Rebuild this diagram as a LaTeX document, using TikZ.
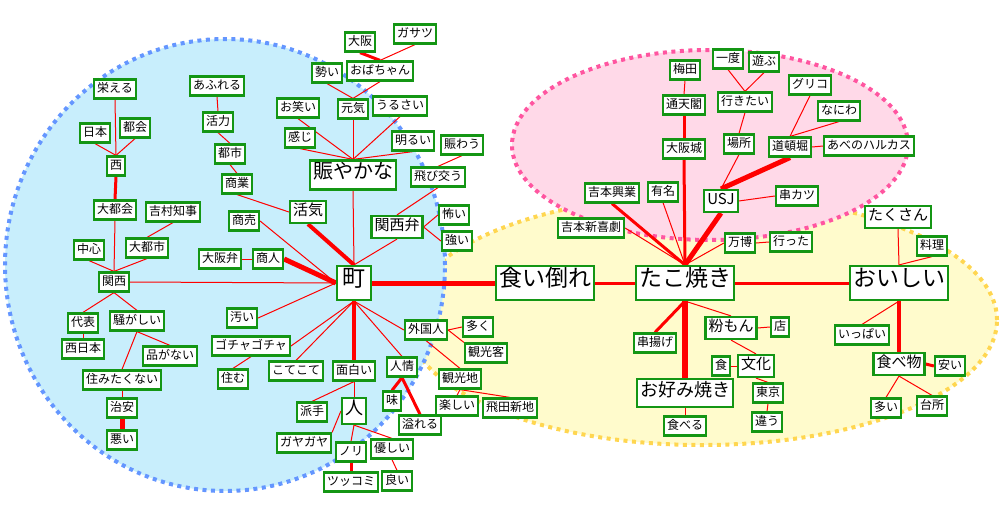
\documentclass[tikz,border=0pt]{standalone}
\usepackage{fontspec}
\setmainfont{Noto Sans CJK JP}
\definecolor{kwgreen}{RGB}{20,150,20}
\definecolor{linkred}{RGB}{255,0,0}
\definecolor{bluefill}{RGB}{200,238,252}
\definecolor{blueedge}{RGB}{100,150,255}
\definecolor{pinkfill}{RGB}{255,217,232}
\definecolor{pinkedge}{RGB}{255,85,160}
\definecolor{yellowfill}{RGB}{255,251,204}
\definecolor{yellowedge}{RGB}{255,214,80}
\pgfdeclarelayer{bg}
\pgfdeclarelayer{links}
\pgfsetlayers{bg,links,main}
\tikzset{
  word/.style={draw=kwgreen, line width=2.2pt, fill=white, inner xsep=3pt, inner ysep=2pt,
    text height=0.84em, text depth=0.16em, font=\fontsize{12}{14}\selectfont, minimum height=19pt},
  midword/.style={word, font=\fontsize{15}{17}\selectfont, minimum height=22pt},
  bigword/.style={word, font=\fontsize{20}{22}\selectfont, minimum height=29pt},
  hubword/.style={word, font=\fontsize{23}{25}\selectfont, minimum height=34pt, minimum width=34pt},
  link/.style={draw=linkred, line width=1pt},
  area/.style={line width=4pt, dash pattern=on 4pt off 4.5pt},
}
\begin{document}
\begin{tikzpicture}[x=1pt, y=-1pt]
    \useasboundingbox (0,0) rectangle (1000,519);
    % areas
    \begin{pgfonlayer}{bg}
        \filldraw[area, fill=yellowfill, draw=yellowedge] (702,320) ellipse [x radius=295pt, y radius=125pt];
        \filldraw[area, fill=pinkfill, draw=pinkedge] (710,145) ellipse [x radius=198pt, y radius=95pt];
        \filldraw[area, fill=bluefill, draw=blueedge] (225,265) ellipse [x radius=220pt, y radius=226pt];
    \end{pgfonlayer}
    % 関西 side
    \node[word] (sakaeru) at (115,89) {栄える};
    \node[word] (nihon) at (95,133) {日本};
    \node[word] (tokai) at (135,128) {都会};
    \node[word] (nishi) at (116,166) {西};
    \node[word] (daitokai) at (115,210) {大都会};
    \node[word] (yoshimura) at (173,212) {吉村知事};
    \node[word] (chushin) at (89,250) {中心};
    \node[word] (daitoshi) at (147,248) {大都市};
    \node[word] (kansai) at (114,282) {関西};
    \node[word] (daihyo) at (83,323) {代表};
    \node[word] (sawagashii) at (137,321) {騒がしい};
    \node[word] (nishinihon) at (83,349) {西日本};
    \node[word] (hinaganai) at (170,356) {品がない};
    \node[word] (sumitakunai) at (122,380) {住みたくない};
    \node[word] (chian) at (122,408) {治安};
    \node[word] (warui) at (122,440) {悪い};
    \node[word] (afureru) at (217,86) {あふれる};
    \node[word] (katsuryoku) at (218,122) {活力};
    \node[word] (toshi) at (230,154) {都市};
    \node[word] (shogyo) at (237,184) {商業};
    \node[midword] (kakki) at (308,212) {活気};
    \node[word] (shobai) at (244,221) {商売};
    \node[word] (osakaben) at (220,259) {大阪弁};
    \node[word] (shonin) at (268,259) {商人};
    \node[hubword] (machi) at (354,283) {町};
    \node[word] (kitanai) at (242,318) {汚い};
    \node[word] (gocha) at (251,346) {ゴチャゴチャ};
    \node[word] (sumu) at (233,379) {住む};
    \node[word] (kotekote) at (296,371) {こてこて};
    \node[word] (omoshiroi) at (354,371) {面白い};
    \node[word] (ninjo) at (402,367) {人情};
    \node[word] (hade) at (312,412) {派手};
    \node[midword, font=\fontsize{18}{20}\selectfont, minimum height=26pt] (hito) at (354,411) {人};
    \node[word] (aji) at (392,401) {味};
    \node[word] (michiru) at (420,425) {溢れる};
    \node[word] (gayagaya) at (304,443) {ガヤガヤ};
    \node[word] (nori) at (351,452) {ノリ};
    \node[word] (yasashii) at (392,449) {優しい};
    \node[word] (tsukkomi) at (351,482) {ツッコミ};
    \node[word] (yoi) at (397,481) {良い};
    \node[word] (osaka) at (360,42) {大阪};
    \node[word] (gasatsu) at (415,34) {ガサツ};
    \node[word] (ikioi) at (327,73) {勢い};
    \node[word] (obachan) at (380,71) {おばちゃん};
    \node[word] (owarai) at (298,108) {お笑い};
    \node[word] (genki) at (353,109) {元気};
    \node[word] (urusai) at (400,106) {うるさい};
    \node[word] (kanji) at (300,138) {感じ};
    \node[word] (akarui) at (413,141) {明るい};
    \node[word] (nigiwau) at (462,145) {賑わう};
    \node[bigword] (nigiyaka) at (353,175) {賑やかな};
    \node[word] (tobikau) at (438,177) {飛び交う};
    \node[midword] (kansaiben) at (397,227) {関西弁};
    \node[word] (kowai) at (454,215) {怖い};
    \node[word] (tsuyoi) at (457,241) {強い};
    \node[word] (gaikokujin) at (426,330) {外国人};
    \node[word] (ooku) at (478,327) {多く};
    \node[word] (kankokyaku) at (486,353) {観光客};
    \node[word] (kankochi) at (460,379) {観光地};
    \node[word] (tanoshii) at (457,406) {楽しい};
    \node[word] (tobita) at (510,408) {飛田新地};
    % middle
    \node[hubword] (kuidaore) at (545,283) {食い倒れ};
    \node[hubword] (takoyaki) at (685,283) {たこ焼き};
    \node[hubword] (oishii) at (899,283) {おいしい};
    % 大阪 spots
    \node[word] (umeda) at (685,70) {梅田};
    \node[word] (ichido) at (728,59) {一度};
    \node[word] (asobu) at (764,62) {遊ぶ};
    \node[word] (glico) at (810,85) {グリコ};
    \node[word] (tsutenkaku) at (684,105) {通天閣};
    \node[word] (ikitai) at (745,102) {行きたい};
    \node[word] (naniwa) at (839,111) {なにわ};
    \node[word] (osakajo) at (684,149) {大阪城};
    \node[word] (basho) at (739,144) {場所};
    \node[word] (dotonbori) at (790,147) {道頓堀};
    \node[word] (harukas) at (869,146) {あべのハルカス};
    \node[midword] (usj) at (721,201) {USJ};
    \node[word] (kushikatsu) at (797,196) {串カツ};
    \node[word] (kogyo) at (612,193) {吉本興業};
    \node[word] (yumei) at (663,192) {有名};
    \node[word] (shinkigeki) at (591,228) {吉本新喜劇};
    \node[word] (banpaku) at (740,243) {万博};
    \node[word] (itta) at (791,242) {行った};
    % food
    \node[midword] (konamon) at (731,328) {粉もん};
    \node[word] (kushiage) at (655,343) {串揚げ};
    \node[word] (mise) at (780,327) {店};
    \node[word] (shoku) at (721,366) {食};
    \node[midword] (bunka) at (756,366) {文化};
    \node[midword, font=\fontsize{18}{20}\selectfont, minimum height=28pt] (okonomi) at (685,393) {お好み焼き};
    \node[word] (tokyo) at (768,393) {東京};
    \node[word] (taberu) at (685,426) {食べる};
    \node[word] (chigau) at (767,422) {違う};
    \node[midword] (takusan) at (898,217) {たくさん};
    \node[word] (ryori) at (932,246) {料理};
    \node[word] (ippai) at (862,335) {いっぱい};
    \node[midword] (tabemono) at (899,364) {食べ物};
    \node[word] (yasui) at (950,366) {安い};
    \node[word] (ooi) at (886,408) {多い};
    \node[word] (daidokoro) at (932,406) {台所};
    % links
    \begin{pgfonlayer}{links}
        \foreach \a/\b in {sakaeru.south/nishi.north, nihon.south/nishi.north, tokai.south/nishi.north,
            daitokai.south/kansai.north, chushin.south/kansai.north, daitoshi.south/kansai.north,
            yoshimura.south/daitoshi.north, kansai.south/daihyo.north, kansai.south/sawagashii.north,
            daihyo.south/nishinihon.north, sawagashii.south/hinaganai.north, sawagashii.south/sumitakunai.north,
            sumitakunai.south/chian.north, kansai.east/machi.west, afureru.south/katsuryoku.north,
            katsuryoku.south/toshi.north, toshi.south/shogyo.north, shogyo.south/kakki.west,
            shobai.east/machi.west, osakaben.east/shonin.west, kitanai.east/machi.west,
            gocha.east/machi.south, gocha.south/sumu.north, kotekote.north/machi.south,
            ninjo.north/machi.south, gaikokujin.west/machi.south, gaikokujin.south/kankochi.north,
            gaikokujin.east/ooku.west, gaikokujin.east/kankokyaku.north west,
            kankochi.south/tanoshii.north, kankochi.south/tobita.north,
            omoshiroi.south/hito.north, omoshiroi.south/hade.north, hito.west/gayagaya.north east,
            hito.south/nori.north, hito.south/yasashii.north, yasashii.south/yoi.north,
            gasatsu.south/obachan.north, ikioi.south/genki.north, obachan.south/genki.north,
            owarai.south/nigiyaka.north, genki.south/nigiyaka.north, urusai.south/nigiyaka.north,
            kanji.south/nigiyaka.north, akarui.south/nigiyaka.north, nigiwau.south/tobikau.north,
            nigiyaka.south/machi.north, tobikau.south/kansaiben.north, kansaiben.south/machi.north,
            kansaiben.east/kowai.west, kansaiben.east/tsuyoi.west,
            umeda.south/tsutenkaku.north, ichido.south/ikitai.north, asobu.south/ikitai.north,
            ikitai.south/basho.north, basho.south/usj.north, glico.south/dotonbori.north,
            naniwa.south/dotonbori.north, dotonbori.east/harukas.west, usj.east/kushikatsu.west,
            banpaku.east/itta.west, banpaku.west/takoyaki.north, yumei.south/takoyaki.north,
            shinkigeki.east/takoyaki.north, takoyaki.south/konamon.north, konamon.east/mise.west,
            konamon.south/bunka.north, shoku.east/bunka.west, bunka.south/tokyo.north,
            tokyo.south/chigau.north, okonomi.south/taberu.north, takusan.south/oishii.north,
            ryori.south/oishii.north, oishii.south/ippai.north, tabemono.south/ooi.north,
            tabemono.south/daidokoro.north}
            \draw[link] (\a) -- (\b);
        % strong links
        \foreach \a/\b/\w in {nishi.south/daitokai.north/3, chian.south/warui.north/5,
            kakki.south/machi.north/4, shonin.east/machi.west/5, omoshiroi.north/machi.south/4,
            ninjo.south/aji.north/3, ninjo.south/michiru.north/3, nori.south/tsukkomi.north/3,
            osaka.south/obachan.north/3, machi.east/kuidaore.west/5, kuidaore.east/takoyaki.west/3,
            takoyaki.east/oishii.west/3, tsutenkaku.south/osakajo.north/3, osakajo.south/takoyaki.north/3,
            dotonbori.south/usj.north/5, usj.south/takoyaki.north/5, kogyo.south/takoyaki.north/3,
            takoyaki.south/kushiage.north/3, takoyaki.south/okonomi.north/6,
            oishii.south/tabemono.north/3.5, tabemono.east/yasui.west/3}
            \draw[link, line width=\w pt] (\a) -- (\b);
    \end{pgfonlayer}
\end{tikzpicture}
\end{document}
